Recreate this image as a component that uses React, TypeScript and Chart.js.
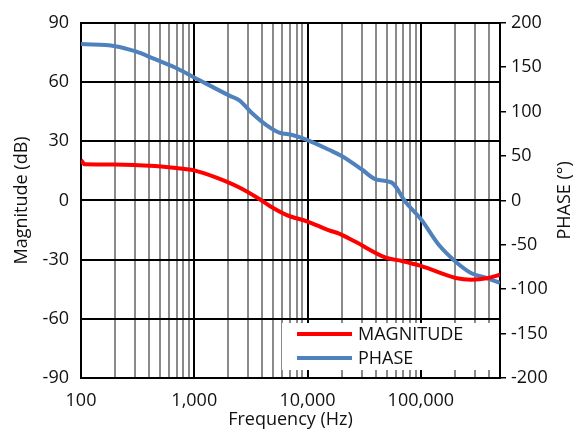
import React, { useEffect, useRef } from "react";
import { Chart, registerables } from "chart.js";

Chart.register(...registerables);

// Magnitude series: frequency (Hz) and value (dB), left axis
const magFreqs = [
  100, 108, 200, 450, 820, 1000, 1570, 2500, 3750, 4600, 6490, 10000, 15500,
  19000, 26500, 49000, 67900, 100000, 203000, 280000, 395000, 500000,
];
const magnitude = [
  20.5, 18.3, 18.2, 17.4, 15.9, 15.2, 11.5, 6.5, 0.7, -2.7, -7.3, -10.7, -15.2,
  -16.8, -21, -29, -30.7, -33.2, -39.3, -40.2, -39.3, -37.7,
];

// Phase series: frequency (Hz) and value (degrees), right axis
const phaseFreqs = [
  100, 200, 300, 450, 670, 1000, 2040, 2500, 3260, 4330, 5630, 7330, 10000,
  15500, 20000, 30200, 40000, 55500, 73600, 100000, 144000, 203000, 280000,
  372000, 500000,
];
const phase = [
  176, 173.7, 168, 159, 150, 138.5, 118, 112.6, 97.8, 84.8, 76.3, 73.7, 68, 57,
  50, 34.8, 23.7, 20, -2.2, -21, -50, -69, -82, -87, -93,
];

const magTicks = [-90, -60, -30, 0, 30, 60, 90];
const phaseTicks = [-200, -150, -100, -50, 0, 50, 100, 150, 200];
const freqMin = 100;
const freqMax = 500000;

const isDecade = (v: number) => {
  const l = Math.log10(v);
  return Math.abs(l - Math.round(l)) < 1e-9;
};

const buildFreqTicks = () => {
  const out: { value: number }[] = [];
  for (let d = 100; d <= freqMax; d *= 10) {
    for (let m = 1; m <= 9; m++) {
      const v = d * m;
      if (v >= freqMin && v <= freqMax) out.push({ value: v });
    }
  }
  return out;
};

export default function App() {
  const ref = useRef<HTMLCanvasElement>(null);

  useEffect(() => {
    document.body.style.margin = "0";
    const fontFamily = "'Open Sans', sans-serif";
    const font = { family: fontFamily, size: 18 };
    const textColor = "#111";

    const extras = {
      id: "extras",
      afterDatasetsDraw(chart: any) {
        const { ctx, chartArea } = chart;
        const x0 = chartArea.right - 218;
        const y0 = chartArea.bottom - 55;
        ctx.save();
        ctx.fillStyle = "#ffffff";
        ctx.fillRect(x0, y0, 217, 47);
        ctx.font = `18px ${fontFamily}`;
        chart.data.datasets.forEach((ds: any, i: number) => {
          const y = y0 + 11 + i * 24;
          ctx.strokeStyle = ds.borderColor;
          ctx.lineWidth = 4;
          ctx.beginPath();
          ctx.moveTo(x0 + 15, y);
          ctx.lineTo(x0 + 70, y);
          ctx.stroke();
          ctx.fillStyle = textColor;
          ctx.textBaseline = "middle";
          ctx.textAlign = "left";
          ctx.fillText(ds.label, x0 + 76, y + 1);
        });
        // right axis title, reading bottom-to-top
        ctx.translate(565, (chartArea.top + chartArea.bottom) / 2);
        ctx.rotate(-Math.PI / 2);
        ctx.textAlign = "center";
        ctx.textBaseline = "middle";
        ctx.fillStyle = textColor;
        ctx.fillText("PHASE (°)", 0, 0);
        ctx.restore();
      },
    };

    const chart = new Chart(ref.current as HTMLCanvasElement, {
      type: "line",
      data: {
        datasets: [
          {
            label: "MAGNITUDE",
            data: magFreqs.map((f, i) => ({ x: f, y: magnitude[i] })),
            yAxisID: "yMag",
            borderColor: "#FF0000",
            borderWidth: 4,
            pointRadius: 0,
            cubicInterpolationMode: "monotone",
          },
          {
            label: "PHASE",
            data: phaseFreqs.map((f, i) => ({ x: f, y: phase[i] })),
            yAxisID: "yPhase",
            borderColor: "#4F81BD",
            borderWidth: 4,
            pointRadius: 0,
            cubicInterpolationMode: "monotone",
          },
        ],
      },
      options: {
        responsive: false,
        animation: false,
        layout: { padding: { top: 18, left: 0, right: 0, bottom: 0 } },
        plugins: { legend: { display: false }, tooltip: { enabled: false } },
        scales: {
          x: {
            type: "logarithmic",
            min: freqMin,
            max: freqMax,
            afterBuildTicks: (s: any) => {
              s.ticks = buildFreqTicks();
            },
            afterFit: (s: any) => {
              s.height = 57;
            },
            ticks: {
              autoSkip: false,
              maxRotation: 0,
              minRotation: 0,
              padding: 12,
              font,
              color: textColor,
              callback: (v: any) =>
                isDecade(Number(v)) ? Number(v).toLocaleString("en-US") : "",
            },
            grid: {
              drawTicks: false,
              color: (c: any) =>
                c.tick && isDecade(c.tick.value) ? "#000000" : "#8a8a8a",
              lineWidth: 2,
            },
            border: { display: true, color: "#000", width: 2 },
            title: {
              display: true,
              text: "Frequency (Hz)",
              font,
              color: textColor,
              padding: { top: 0, bottom: 4 },
            },
          },
          yMag: {
            type: "linear",
            position: "left",
            min: -90,
            max: 90,
            afterBuildTicks: (s: any) => {
              s.ticks = magTicks.map((v) => ({ value: v }));
            },
            afterFit: (s: any) => {
              s.width = 81;
            },
            ticks: { padding: 12, font, color: textColor },
            grid: { drawTicks: false, color: "#000", lineWidth: 2 },
            border: { display: true, color: "#000", width: 2 },
            title: {
              display: true,
              text: "Magnitude (dB)",
              font,
              color: textColor,
              padding: { top: 11, bottom: 0 },
            },
          },
          yPhase: {
            type: "linear",
            position: "right",
            min: -200,
            max: 200,
            afterBuildTicks: (s: any) => {
              s.ticks = phaseTicks.map((v) => ({ value: v }));
            },
            afterFit: (s: any) => {
              s.width = 81;
            },
            ticks: { padding: 5, font, color: textColor },
            grid: {
              drawOnChartArea: false,
              drawTicks: true,
              tickLength: 6,
              color: "#000",
              lineWidth: 1.5,
            },
            border: { display: true, color: "#000", width: 2 },
            title: { display: false },
          },
        },
      },
      plugins: [extras],
    } as any);

    return () => chart.destroy();
  }, []);

  return (
    <canvas
      ref={ref}
      width={581}
      height={435}
      style={{ display: "block", width: 581, height: 435 }}
    />
  );
}
